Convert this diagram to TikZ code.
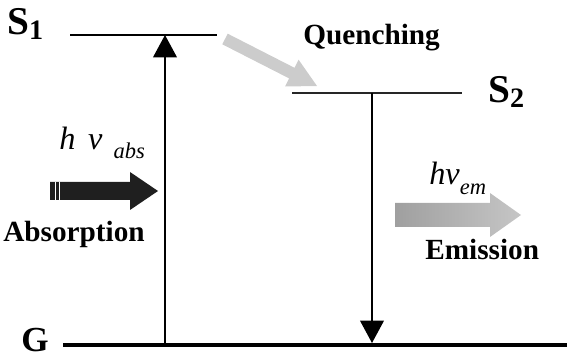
\documentclass[tikz,border=0pt]{standalone}
\usepackage{fontspec}
\setmainfont{Liberation Serif}
\usetikzlibrary{arrows.meta}

\tikzset{
  lbl/.style={font=\bfseries\fontsize{20.8}{24}\selectfont,inner sep=0pt},
  statelbl/.style={font=\bfseries\fontsize{28}{30}\selectfont,inner sep=0pt,anchor=base west},
  freq/.style={font=\itshape\fontsize{23}{26}\selectfont,inner sep=0pt,anchor=base west},
  level/.style={line width=1.6pt},
  trans/.style={line width=1pt,-{Triangle[width=17pt,length=16pt]}}
}

\begin{document}
\begin{tikzpicture}[x=0.025cm,y=-0.025cm]
\useasboundingbox (0,0) rectangle (567,360);
% energy levels
\coordinate (s1l) at (70,35); \coordinate (s1r) at (217,35);
\coordinate (s2l) at (292,93); \coordinate (s2r) at (462,93);
\coordinate (gl) at (63,345); \coordinate (gr) at (567,345);
\draw[level] (s1l)--(s1r);
\draw[level,line width=1pt,black!85] (s2l)--(s2r);
\draw[level,line width=3pt] (gl)--(gr);
\node[statelbl] (s1) at (7,35) {S\raisebox{-3pt}{\fontsize{20}{20}\selectfont 1}};
\node[statelbl] (s2) at (488,103) {S\raisebox{-3pt}{\fontsize{20}{20}\selectfont 2}};
\node[statelbl,font=\bfseries\fontsize{25}{28}\selectfont] (g) at (21,352) {G};
% transitions
\coordinate (a0) at (165,345); \coordinate (a1) at (165,35);
\coordinate (e0) at (372,93); \coordinate (e1) at (372,343);
\draw[trans] (a0)--(a1);
\draw[trans] (e0)--(e1);
% quenching
\fill[gray!40] (227.7,33.7)--(294.5,67.8)--(298.6,59.7)--(317,86)--(285,86.5)--(289.1,78.4)--(222.3,44.3)--cycle;
\node[lbl,anchor=base west] (quench) at (303,45) {Quenching};
% absorption
\node[freq] (habs) at (59,150) {h\hspace{9pt}ν\hspace{8pt}\raisebox{-6pt}{\fontsize{16}{16}\selectfont abs}};
\fill[black!88] (50,182)--(130,182)--(130,172)--(158,191)--(130,210)--(130,200)--(50,200)--cycle;
\draw[white,line width=0.6pt] (55.5,182)--(55.5,200) (59.5,182)--(59.5,200);
\node[lbl,anchor=base west] (abs) at (3,242) {Absorption};
% emission
\node[freq] (hem) at (429,185) {hν\raisebox{-7pt}{\fontsize{16}{16}\selectfont em}};
\shade[left color=gray!75,right color=gray!45] (395,203)--(490,203)--(490,193)--(521,215)--(490,237)--(490,227)--(395,227)--cycle;
\node[lbl,anchor=base west] (em) at (425,260) {Emission};
\end{tikzpicture}
\end{document}
